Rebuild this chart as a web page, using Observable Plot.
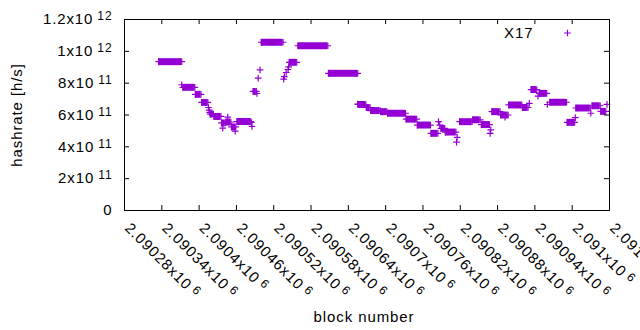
<!DOCTYPE html>
<html>
<head>
<meta charset="utf-8">
<script src="https://cdn.jsdelivr.net/npm/d3@7"></script>
<script src="https://cdn.jsdelivr.net/npm/@observablehq/plot@0.6"></script>
<style>
  html, body { margin: 0; padding: 0; background: #fff; }
  #chart svg { display: block; }
  #chart svg text { letter-spacing: 0.9px; }
</style>
</head>
<body>
<div id="chart"></div>
<script>
// ---- data ----
const seriesName = "X17";
const xTitle = "block number";
const yTitle = "hashrate [h/s]";

// runs of consecutive blocks sharing the same hashrate estimate (start block, end block, value)
const runStart = [
  2090335, 2090372, 2090374, 2090394, 2090404, 2090415, 2090416, 2090417, 2090418, 2090424,
  2090436, 2090438, 2090443, 2090446, 2090452, 2090458, 2090461, 2090484, 2090485, 2090487,
  2090493, 2090495, 2090498, 2090500, 2090536, 2090537, 2090540, 2090543, 2090544, 2090545,
  2090559, 2090608, 2090655, 2090656, 2090669, 2090676, 2090692, 2090703, 2090733, 2090751,
  2090773, 2090785, 2090787, 2090789, 2090796, 2090814, 2090815, 2090819, 2090840, 2090854,
  2090868, 2090869, 2090871, 2090885, 2090892, 2090898, 2090920, 2090931, 2090934, 2090945,
  2090947, 2090960, 2090964, 2090992, 2091005, 2091006, 2091030, 2091032, 2091046, 2091056
];
const runEnd = [
  2090372, 2090372, 2090393, 2090403, 2090414, 2090415, 2090416, 2090417, 2090423, 2090435,
  2090442, 2090438, 2090451, 2090446, 2090459, 2090458, 2090483, 2090484, 2090485, 2090492,
  2090493, 2090495, 2090498, 2090535, 2090536, 2090537, 2090540, 2090543, 2090544, 2090557,
  2090607, 2090655, 2090655, 2090668, 2090675, 2090691, 2090702, 2090732, 2090750, 2090772,
  2090784, 2090785, 2090787, 2090795, 2090813, 2090814, 2090815, 2090839, 2090852, 2090867,
  2090868, 2090869, 2090884, 2090897, 2090892, 2090919, 2090929, 2090931, 2090943, 2090945,
  2090959, 2090960, 2090991, 2091004, 2091005, 2091029, 2091030, 2091045, 2091054, 2091056
];
const runHashrate = [
  9.35e11, 7.90e11, 7.74e11, 7.30e11, 6.79e11, 6.47e11, 6.31e11, 6.16e11, 6.06e11, 5.91e11,
  5.50e11, 5.18e11, 5.56e11, 5.87e11, 5.25e11, 4.99e11, 5.59e11, 5.53e11, 5.28e11, 7.48e11,
  7.35e11, 8.32e11, 8.83e11, 1.057e12, 8.26e11, 8.41e11, 8.67e11, 8.86e11, 9.02e11, 9.31e11,
  1.035e12, 8.62e11, 6.69e11, 6.66e11, 6.47e11, 6.28e11, 6.21e11, 6.11e11, 5.74e11, 5.37e11,
  4.85e11, 5.58e11, 5.37e11, 5.16e11, 4.93e11, 4.30e11, 4.59e11, 5.58e11, 5.70e11, 5.40e11,
  4.84e11, 5.06e11, 6.21e11, 6.00e11, 5.87e11, 6.63e11, 6.47e11, 6.73e11, 7.60e11, 7.19e11,
  7.36e11, 6.66e11, 6.80e11, 5.54e11, 5.84e11, 6.44e11, 6.11e11, 6.58e11, 6.23e11, 6.67e11
];

const xTicks = [2090280, 2090340, 2090400, 2090460, 2090520, 2090580, 2090640,
                2090700, 2090760, 2090820, 2090880, 2090940, 2091000, 2091060];
const xTickLabels = ["2.09028x10^{6}", "2.09034x10^{6}", "2.0904x10^{6}", "2.09046x10^{6}",
                     "2.09052x10^{6}", "2.09058x10^{6}", "2.09064x10^{6}", "2.0907x10^{6}",
                     "2.09076x10^{6}", "2.09082x10^{6}", "2.09088x10^{6}", "2.09094x10^{6}",
                     "2.091x10^{6}", "2.09106x10^{6}"];
const yTicks = [0, 2e11, 4e11, 6e11, 8e11, 1e12, 1.2e12];
const yTickLabels = ["0", "2x10^{11}", "4x10^{11}", "6x10^{11}", "8x10^{11}", "1x10^{12}", "1.2x10^{12}"];

// ---- build ----
const color = "#9400d3";
const runs = runStart.map((s, i) => ({start: s, end: runEnd[i], value: runHashrate[i]}));
const bars = runs.filter(r => r.end > r.start);
const marks = runs.flatMap(r => r.end > r.start
  ? [{x: r.start, y: r.value}, {x: r.end, y: r.value}]
  : [{x: r.start, y: r.value}]);

const FH = 191, FW = 485, TICK = 5, R = 2.3;

const chart = Plot.plot({
  width: 640,
  height: 330,
  marginLeft: 124,
  marginRight: 31,
  marginTop: 19,
  marginBottom: 120,
  x: {domain: [2090280, 2091060], axis: null},
  y: {domain: [0, 1.2e12], axis: null},
  style: {fontFamily: "'Liberation Sans', Arial, sans-serif", fontSize: "15px", color: "black", background: "white"},
  marks: [
    Plot.ruleY(bars, {x1: "start", x2: "end", y: "value", stroke: color, strokeWidth: 7}),
    Plot.dot(marks, {x: "x", y: "y", symbol: "plus", r: R, stroke: color, strokeWidth: 1.2}),
    Plot.tickX(xTicks, {x: d => d, insetTop: FH - TICK, stroke: "black"}),
    Plot.tickX(xTicks, {x: d => d, insetBottom: FH - TICK, stroke: "black"}),
    Plot.tickY(yTicks, {y: d => d, insetRight: FW - TICK, stroke: "black"}),
    Plot.tickY(yTicks, {y: d => d, insetLeft: FW - TICK, stroke: "black"}),
    Plot.frame({stroke: "black"}),
    Plot.axisY(yTicks, {tickSize: 0, tickPadding: 12, tickFormat: (d, i) => yTickLabels[i], label: null}),
    Plot.text(xTicks, {x: d => d, frameAnchor: "bottom", text: (d, i) => xTickLabels[i],
      rotate: 45, textAnchor: "start", lineAnchor: "bottom", dy: 18.5, dx: -0.5}),
    Plot.text([yTitle], {frameAnchor: "left", text: d => d, rotate: -90, textAnchor: "middle",
      lineAnchor: "bottom", dx: -102.5}),
    Plot.text([xTitle], {frameAnchor: "bottom", text: d => d, textAnchor: "middle",
      lineAnchor: "bottom", dx: -3, dy: 111.5}),
    Plot.text([seriesName], {frameAnchor: "top-right", text: d => d, textAnchor: "end",
      lineAnchor: "bottom", dx: -76, dy: 18}),
    Plot.dot([seriesName], {frameAnchor: "top-right", symbol: "plus", r: R, stroke: color,
      strokeWidth: 1.2, dx: -42, dy: 13.5})
  ]
});

// superscripts (gnuplot enhanced text style "x10^{n}")
chart.querySelectorAll("text").forEach(t => {
  const s = t.textContent;
  const m = s.match(/^(.*)\^\{(.+)\}$/);
  if (!m) return;
  t.textContent = m[1];
  const ts = document.createElementNS("http://www.w3.org/2000/svg", "tspan");
  ts.setAttribute("dx", "4");
  ts.setAttribute("dy", "-4");
  ts.setAttribute("font-size", "12px");
  ts.textContent = m[2];
  t.appendChild(ts);
});

document.getElementById("chart").appendChild(chart);
</script>
</body>
</html>
